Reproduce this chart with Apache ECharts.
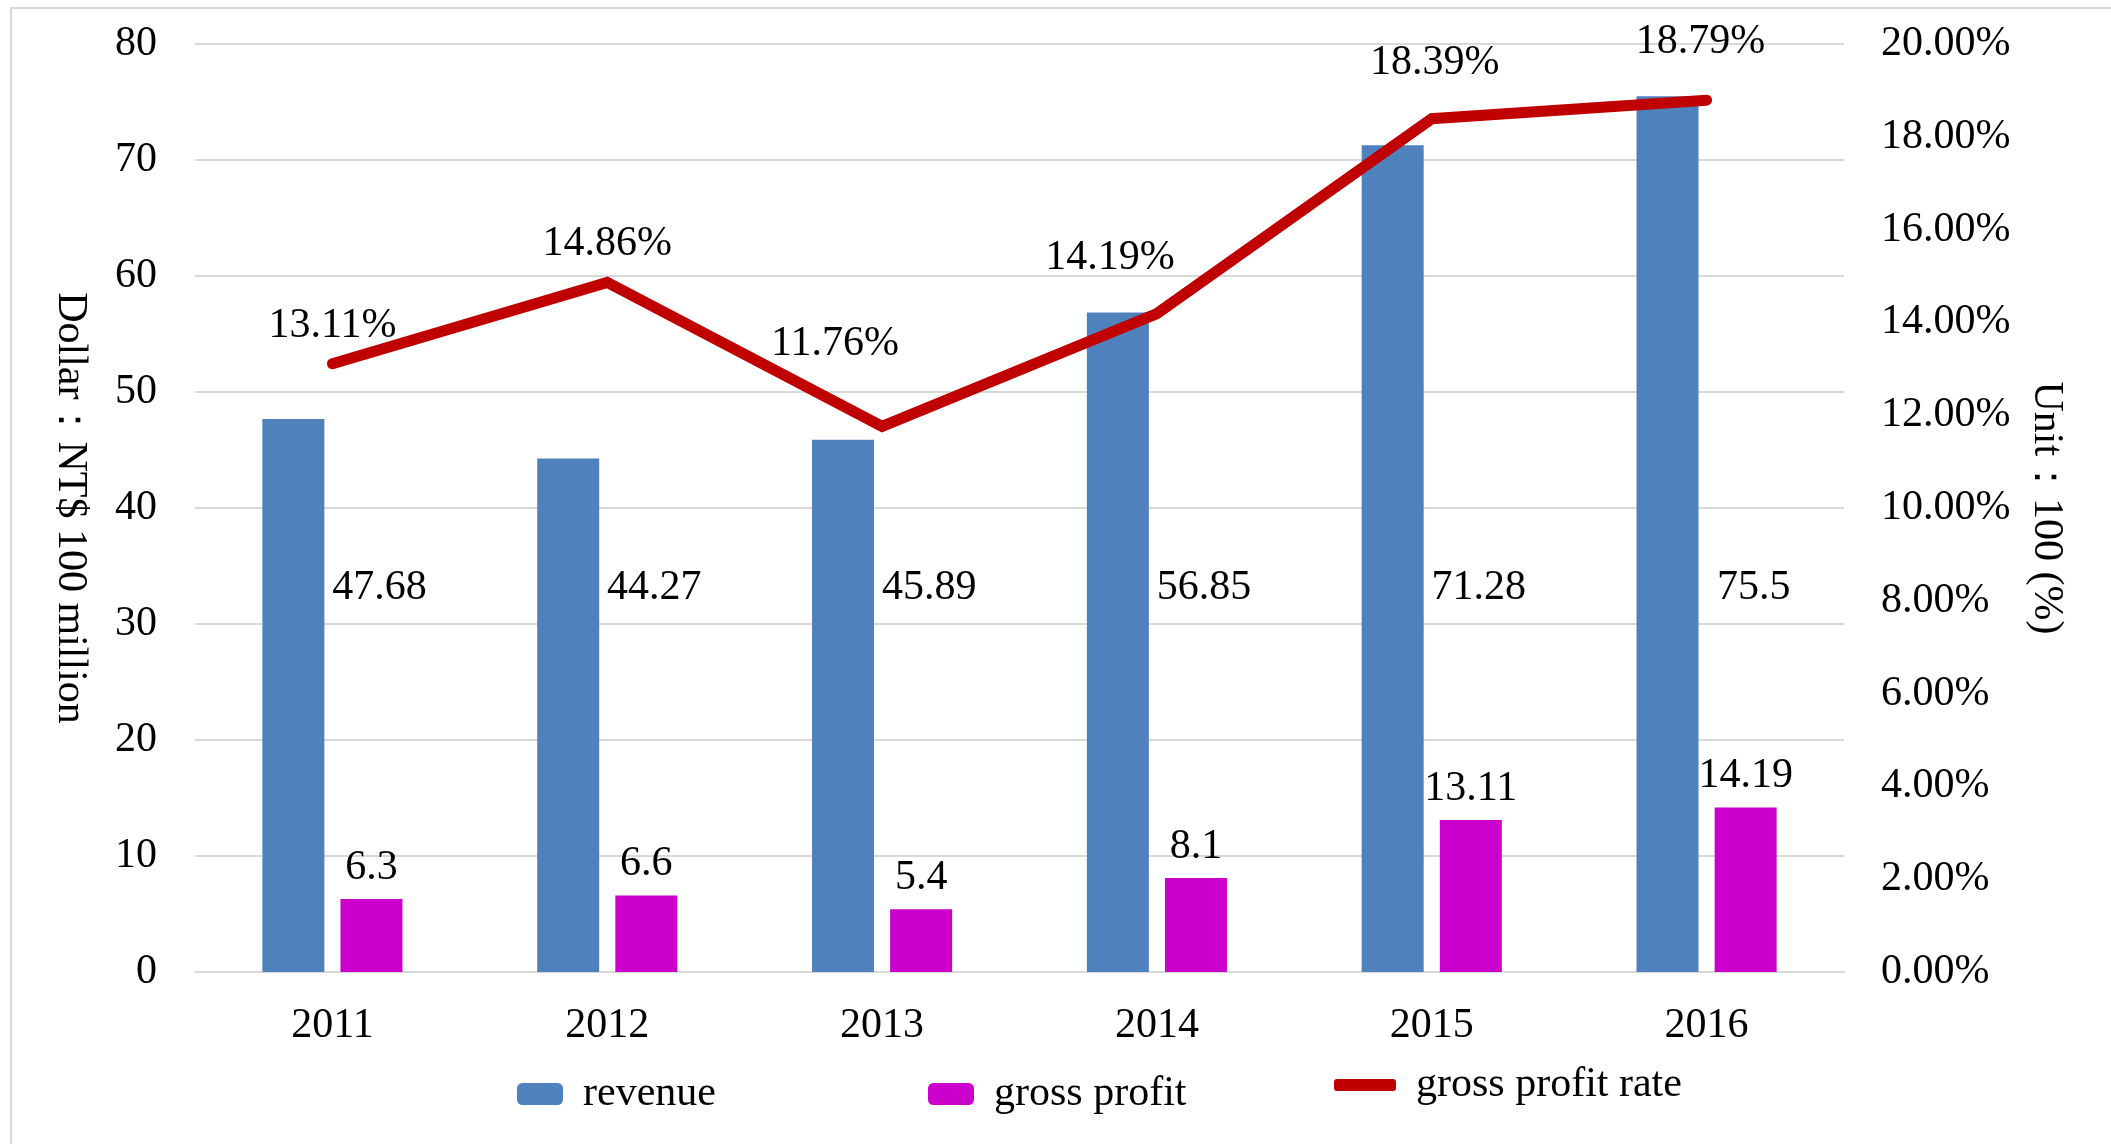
<!DOCTYPE html>
<html>
<head>
<meta charset="utf-8">
<title>revenue / gross profit</title>
<script src="https://cdn.jsdelivr.net/npm/echarts@6/dist/echarts.min.js"></script>
<style>
  html, body { margin: 0; padding: 0; background: #fff; }
  .frame {
    position: absolute; left: 10px; top: 7px; right: -10px; bottom: -10px;
    border-top: 2px solid #d9d9d9; border-left: 2px solid #d9d9d9;
  }
  #main { position: absolute; left: 0; top: 0; width: 2111px; height: 1144px; }
</style>
</head>
<body>
<div class="frame"></div>
<div id="main"></div>
<script>
  // values
  const years = ['2011', '2012', '2013', '2014', '2015', '2016'];
  const revenue = [47.68, 44.27, 45.89, 56.85, 71.28, 75.5];
  const grossProfit = [6.3, 6.6, 5.4, 8.1, 13.11, 14.19];
  const grossProfitRate = [13.11, 14.86, 11.76, 14.19, 18.39, 18.79];

  const font = '"Liberation Serif", "Times New Roman", serif';
  const txt = { fontFamily: font, fontSize: 42, color: '#000' };
  const legendTxt = Object.assign({ padding: [0, 0, 0, 15] }, txt);

  // the rate labels were nudged by hand in the original, so shift them a bit
  const rateLabelNudge = [[0, 18], [0, 17], [-47, -27], [-47, 0], [3, 0], [-6, -3]];

  const myChart = echarts.init(document.getElementById('main'));
  myChart.setOption({
    textStyle: { fontFamily: font },
    color: ['#4F81BD', '#CC00CC', '#C00000'],
    grid: { left: 195, right: 267, top: 44, bottom: 172 },
    legend: [
      { data: ['revenue'], left: 512, top: 1068, itemWidth: 46, itemHeight: 22, itemGap: 0, textStyle: legendTxt },
      { data: ['gross profit'], left: 923, top: 1068, itemWidth: 46, itemHeight: 22, itemGap: 0, textStyle: legendTxt },
      { data: [{ name: 'gross profit rate', icon: 'roundRect' }], left: 1329, top: 1059,
        itemWidth: 62, itemHeight: 12, itemGap: 0, textStyle: legendTxt }
    ],
    xAxis: {
      type: 'category',
      data: years,
      axisTick: { show: false },
      axisLine: { lineStyle: { color: '#d9d9d9', width: 2 } },
      axisLabel: Object.assign({ margin: 33 }, txt)
    },
    yAxis: [
      {
        type: 'value',
        min: 0, max: 80, interval: 10,
        name: 'Dollar：NT$ 100 million',
        nameLocation: 'middle',
        nameRotate: -90,
        nameGap: 104,
        nameTextStyle: txt,
        axisLabel: Object.assign({ margin: 38 }, txt),
        splitLine: { lineStyle: { color: '#d9d9d9', width: 2 } }
      },
      {
        type: 'value',
        min: 0, max: 20, interval: 2,
        name: 'Unit：100 (%)',
        nameLocation: 'middle',
        nameRotate: -90,
        nameGap: 181,
        nameTextStyle: txt,
        splitLine: { show: false },
        axisLabel: Object.assign({
          margin: 37,
          formatter: function (v) { return v.toFixed(2) + '%'; }
        }, txt)
      }
    ],
    series: [
      {
        name: 'revenue',
        type: 'bar',
        data: revenue,
        barWidth: 62,
        barGap: '26%',
        label: Object.assign({ show: true, position: 'inside' }, txt),
        // Excel put these labels by hand, beside the bar at about one height
        labelLayout: function (p) {
          return {
            x: p.rect.x + p.rect.width * 1.76 + 8,
            y: 588,
            align: 'center',
            verticalAlign: 'middle'
          };
        }
      },
      {
        name: 'gross profit',
        type: 'bar',
        data: grossProfit,
        barWidth: 62,
        label: Object.assign({ show: true, position: 'top', distance: 10 }, txt)
      },
      {
        name: 'gross profit rate',
        type: 'line',
        yAxisIndex: 1,
        data: grossProfitRate,
        symbol: 'circle',
        symbolSize: 1,
        showSymbol: true,
        z: 5,
        itemStyle: { color: '#C00000' },
        lineStyle: { width: 11, color: '#C00000', cap: 'round', join: 'miter' },
        label: Object.assign({
          show: true, position: 'top', distance: 34,
          formatter: function (p) { return p.value.toFixed(2) + '%'; }
        }, txt),
        labelLayout: function (p) {
          const n = rateLabelNudge[p.dataIndex];
          return { dx: n[0], dy: n[1] };
        }
      }
    ]
  });
</script>
</body>
</html>
